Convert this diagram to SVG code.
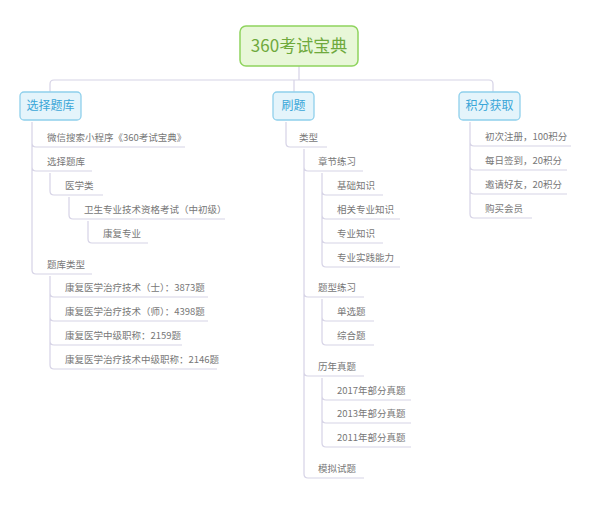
<svg xmlns="http://www.w3.org/2000/svg" width="600" height="514" viewBox="0 0 600 514">
<style>
text{font-family:"Noto Sans CJK SC","Liberation Sans",sans-serif;}
.t{font-size:9.5px;fill:#777;}
.b{font-size:12px;fill:#3aa6d8;text-anchor:middle;}
.l{fill:none;stroke:#d6d3e6;stroke-width:1.2;}
.bx{fill:#e4f4fb;stroke:#8fd0ec;stroke-width:1.3;}
</style>
<rect width="600" height="514" fill="#fff"/>
<g id="connectors">
<path class="l" d="M299,66 V80 M50,92 V84 Q50,80 54,80 H489 Q493,80 493,84 V92 M294,80 V92"/>
<!-- left -->
<path class="l" d="M32,122 V270 Q32,274 36,274 H92 M32,143 Q32,147 36,147 H185 M32,167 Q32,171 36,171 H92"/>
<path class="l" d="M50,173 V191 Q50,195 54,195 H103"/>
<path class="l" d="M69,197 V215 Q69,219 73,219 H225"/>
<path class="l" d="M88,221 V239 Q88,243 92,243 H148"/>
<path class="l" d="M50,276 V365 Q50,369 54,369 H217 M50,293 Q50,297 54,297 H208 M50,317 Q50,321 54,321 H208 M50,341 Q50,345 54,345 H182"/>
<!-- middle -->
<path class="l" d="M286,122 V143 Q286,147 290,147 H327"/>
<path class="l" d="M304,149 V474 Q304,478 308,478 H364 M304,167 Q304,171 308,171 H363 M304,293 Q304,297 308,297 H364 M304,372 Q304,376 308,376 H364"/>
<path class="l" d="M322,173 V263 Q322,267 326,267 H400 M322,191 Q322,195 326,195 H383 M322,215 Q322,219 326,219 H400 M322,239 Q322,243 326,243 H383"/>
<path class="l" d="M322,299 V341 Q322,345 326,345 H374 M322,317 Q322,321 326,321 H374"/>
<path class="l" d="M322,378 V443 Q322,447 326,447 H411 M322,396 Q322,400 326,400 H411 M322,419 Q322,423 326,423 H411"/>
<!-- right -->
<path class="l" d="M470,122 V214 Q470,218 474,218 H532 M470,142 Q470,146 474,146 H571 M470,166 Q470,170 474,170 H567 M470,190 Q470,194 474,194 H567"/>
</g>
<g id="root"><rect x="240" y="26" width="118" height="40" rx="6" fill="#e8f7d8" stroke="#8fd45e" stroke-width="1.5"/><text x="299" y="52" font-size="17" fill="#6fa93c" text-anchor="middle">360考试宝典</text></g>
<g id="b1"><rect class="bx" x="20" y="92" width="61" height="28" rx="4"/><text class="b" x="50.5" y="110">选择题库</text></g>
<g id="b2"><rect class="bx" x="273" y="92" width="41" height="28" rx="4"/><text class="b" x="293.5" y="110">刷题</text></g>
<g id="b3"><rect class="bx" x="459" y="92" width="61" height="28" rx="4"/><text class="b" x="489.5" y="110">积分获取</text></g>
<g id="leaves">
<text class="t" x="47" y="141">微信搜索小程序《360考试宝典》</text>
<text class="t" x="47" y="165">选择题库</text>
<text class="t" x="65" y="189">医学类</text>
<text class="t" x="84" y="213">卫生专业技术资格考试（中初级）</text>
<text class="t" x="103" y="237">康复专业</text>
<text class="t" x="47" y="268">题库类型</text>
<text class="t" x="65" y="291">康复医学治疗技术（士）：3873题</text>
<text class="t" x="65" y="315">康复医学治疗技术（师）：4398题</text>
<text class="t" x="65" y="339">康复医学中级职称：2159题</text>
<text class="t" x="65" y="363">康复医学治疗技术中级职称：2146题</text>
<text class="t" x="299" y="141">类型</text>
<text class="t" x="318" y="165">章节练习</text>
<text class="t" x="337" y="189">基础知识</text>
<text class="t" x="337" y="213">相关专业知识</text>
<text class="t" x="337" y="237">专业知识</text>
<text class="t" x="337" y="261">专业实践能力</text>
<text class="t" x="318" y="291">题型练习</text>
<text class="t" x="337" y="315">单选题</text>
<text class="t" x="337" y="339">综合题</text>
<text class="t" x="318" y="370">历年真题</text>
<text class="t" x="337" y="394">2017年部分真题</text>
<text class="t" x="337" y="417">2013年部分真题</text>
<text class="t" x="337" y="441">2011年部分真题</text>
<text class="t" x="318" y="472">模拟试题</text>
<text class="t" x="485" y="140">初次注册，100积分</text>
<text class="t" x="485" y="164">每日签到，20积分</text>
<text class="t" x="485" y="188">邀请好友，20积分</text>
<text class="t" x="485" y="212">购买会员</text>
</g>
</svg>
